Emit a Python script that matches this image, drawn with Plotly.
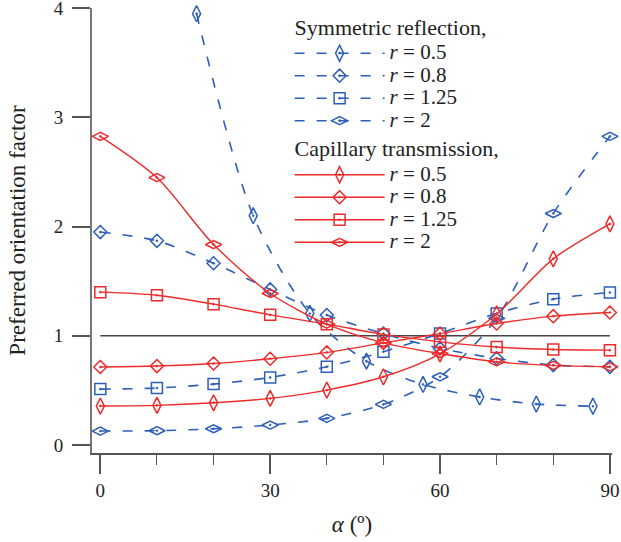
import plotly.graph_objects as go

# ---------------- data ----------------
alpha = [0, 10, 20, 30, 40, 50, 60, 70, 80, 90]
alpha_sr_r05 = [17, 27, 37, 47, 57, 67, 77, 87]

# Symmetric reflection
sr_r05 = [3.95, 2.10, 1.205, 0.768, 0.555, 0.44, 0.375, 0.355]
sr_r08 = [1.95, 1.87, 1.665, 1.425, 1.19, 1.02, 0.885, 0.793, 0.732, 0.716]
sr_r125 = [0.512, 0.522, 0.558, 0.619, 0.717, 0.854, 1.022, 1.205, 1.336, 1.397]
sr_r2 = [0.128, 0.131, 0.149, 0.183, 0.244, 0.372, 0.625, 1.16, 2.12, 2.827]

# Capillary transmission
ct_r05 = [0.357, 0.363, 0.387, 0.427, 0.503, 0.625, 0.835, 1.2, 1.705, 2.025]
ct_r08 = [0.714, 0.723, 0.747, 0.79, 0.848, 0.935, 1.02, 1.113, 1.18, 1.214]
ct_r125 = [1.40, 1.372, 1.29, 1.192, 1.107, 1.013, 0.945, 0.897, 0.875, 0.869]
ct_r2 = [2.827, 2.449, 1.836, 1.388, 1.107, 0.936, 0.838, 0.762, 0.729, 0.716]

r_labels = ["0.5", "0.8", "1.25", "2"]
reference_level = 1

x_title = "<i>α</i> (º)"
y_title = "Preferred orientation factor"
sym_title = "Symmetric reflection,"
cap_title = "Capillary transmission,"

# ---------------- style ----------------
BLUE = "rgb(45,95,185)"
RED = "rgb(238,42,42)"
AXC = "#555555"
TXT = "#222222"
FONT = "Liberation Serif"
symbols = ["diamond-tall-open-dot", "diamond-open-dot", "square-open-dot", "diamond-wide-open-dot"]
msizes = [11.5, 10, 11, 11.5]

fig = go.Figure()

sym_series = [(alpha_sr_r05, sr_r05), (alpha, sr_r08), (alpha, sr_r125), (alpha, sr_r2)]
cap_series = [(alpha, ct_r05), (alpha, ct_r08), (alpha, ct_r125), (alpha, ct_r2)]


def item_name(lbl):
    return '<span style="font-size:21px"><i>r</i> = ' + lbl + '</span>'


for i, (xs, ys) in enumerate(sym_series):
    fig.add_trace(go.Scatter(
        x=xs, y=ys, mode="lines+markers", name=item_name(r_labels[i]),
        legendgroup="sym",
        legendgrouptitle=dict(text=sym_title, font=dict(size=22, family=FONT, color=TXT)),
        line=dict(color=BLUE, width=1.6, dash="10px,12px", shape="spline", smoothing=0.8),
        marker=dict(symbol=symbols[i], size=msizes[i], color=BLUE, line=dict(width=1.5, color=BLUE)),
        cliponaxis=False))

for i, (xs, ys) in enumerate(cap_series):
    fig.add_trace(go.Scatter(
        x=xs, y=ys, mode="lines+markers", name=item_name(r_labels[i]),
        legendgroup="cap",
        legendgrouptitle=dict(text=cap_title, font=dict(size=22, family=FONT, color=TXT)),
        line=dict(color=RED, width=1.4, shape="spline", smoothing=0.8),
        marker=dict(symbol=symbols[i], size=msizes[i], color=RED, line=dict(width=1.5, color=RED)),
        cliponaxis=False))

fig.add_shape(type="line", xref="x", yref="y", x0=alpha[0], x1=alpha[-1],
              y0=reference_level, y1=reference_level,
              line=dict(color="#444444", width=1.5), layer="below")

fig.update_layout(
    width=621, height=542,
    margin=dict(l=92, r=9, t=8, b=89, autoexpand=False),
    paper_bgcolor="white", plot_bgcolor="white",
    font=dict(family=FONT, size=19, color=TXT),
    showlegend=True,
    legend=dict(x=0.38, y=1.006, xanchor="left", yanchor="top",
                bgcolor="rgba(0,0,0,0)", borderwidth=0,
                font=dict(size=15, family=FONT, color=TXT),
                itemwidth=90, tracegroupgap=0, traceorder="grouped"),
    xaxis=dict(range=[-1.47, 90.37], tickmode="linear", tick0=0, dtick=30,
               ticks="outside", ticklen=19, tickwidth=1.5, tickcolor=AXC,
               showline=True, linecolor=AXC, linewidth=1.5,
               showgrid=False, zeroline=False, automargin=False,
               minor=dict(tick0=0, dtick=10, ticks="outside", ticklen=10,
                          tickwidth=1.3, tickcolor=AXC, showgrid=False),
               ticklabelstandoff=0, ticklabeloverflow="allow",
               tickfont=dict(size=19, family=FONT, color=TXT),
               title=dict(text=x_title, font=dict(size=23, family=FONT, color=TXT), standoff=16)),
    yaxis=dict(range=[-0.073, 4.002], tickmode="linear", tick0=0, dtick=1,
               ticks="outside", ticklen=18, tickwidth=1.5, tickcolor=AXC,
               showline=True, linecolor="#777777", linewidth=2,
               showgrid=False, zeroline=False, automargin=False,
               ticklabelstandoff=5, ticklabeloverflow="allow",
               tickfont=dict(size=19, family=FONT, color=TXT),
               title=dict(text=y_title, font=dict(size=23, family=FONT, color=TXT), standoff=22)),
)

fig.write_html("out.html",
               config={"displayModeBar": False},
               post_script="document.body.style.margin='0px';document.body.style.overflow='hidden';")
